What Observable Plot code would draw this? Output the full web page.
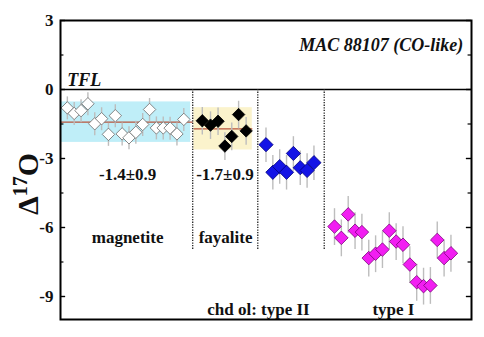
<!DOCTYPE html>
<html><head><meta charset="utf-8">
<script src="https://cdn.jsdelivr.net/npm/d3@7"></script>
<script src="https://cdn.jsdelivr.net/npm/@observablehq/plot@0.6"></script>
<style>body{margin:0;background:#fff}</style>
</head><body><div id="chart"></div>
<script>
// Data
const groups = ["magnetite", "fayalite", "type II", "type I"];
const magX = [1,2,3,4,5,6,7,8,9,10,11,12,13,14,15,16,17,18];
const magY = [-0.8,-1.04,-0.92,-0.62,-1.49,-1.27,-1.95,-1.14,-1.93,-2.1,-1.86,-1.52,-0.87,-1.67,-1.67,-1.68,-1.93,-1.3];
const fayX = [20.7,21.9,23.0,24.0,25.0,26.0,27.1];
const fayY = [-1.36,-1.55,-1.38,-2.46,-2.04,-1.09,-1.8];
const t2X = [30,31,32,33,34,35,36,37];
const t2Y = [-2.4,-3.6,-3.35,-3.6,-2.78,-3.4,-3.52,-3.18];
const t1X = [40,41,42,43,44,45,46,47,48,49,50,51,52,53,54,55,56,57];
const t1Y = [-5.96,-6.45,-5.43,-6.14,-6.2,-7.33,-7.14,-6.96,-6.14,-6.61,-6.75,-7.61,-8.38,-8.55,-8.52,-6.54,-7.33,-7.12];
const errs = [0.5, 0.6, 0.75, 0.8];
const means = [-1.42, -1.71];
const sds = [0.88, 0.92];
const meanLabels = ["-1.4±0.9", "-1.7±0.9"];
const yTicks = [3, 0, -3, -6, -9];
const yMinor = [1.5, -1.5, -4.5, -7.5];

const fills = ["#ffffff", "#000000", "#1414e6", "#f21ef2"];
const strokes = ["#6a6a6a", "#000000", "#00007a", "#7a007a"];
const sizes = [5.6, 5.6, 6.4, 6.1];

const xs = [magX, fayX, t2X, t1X], ys = [magY, fayY, t2Y, t1Y];
const pts = [];
groups.forEach((g, gi) => xs[gi].forEach((x, i) => pts.push({g, gi, x, y: ys[gi][i], e: errs[gi]})));

// band extents in x index units (segments of the sample sequence)
const segs = [{x1: 0, x2: 19.0}, {x1: 19.45, x2: 28.0}];
const lineSegs = [{x1: 0, x2: 19.3}, {x1: 19.45, x2: 28.0}];
const bands = segs.map((s, i) => ({...s, y1: means[i] - sds[i], y2: means[i] + sds[i]}));
const meanLines = lineSegs.map((s, i) => ({...s, y: means[i]}));
const dividers = [19.3, 28.8, 38.5];

const serif = "Liberation Serif, Times New Roman, serif";
const labels = [
  {x: 9.8, y: -3.7, t: meanLabels[0]},
  {x: 24.0, y: -3.7, t: meanLabels[1]},
  {x: 9.8, y: -6.43, t: "magnetite"},
  {x: 24.1, y: -6.43, t: "fayalite"},
  {x: 28.9, y: -9.57, t: "chd ol: type II"},
  {x: 48.6, y: -9.57, t: "type I"}
];

const chart = Plot.plot({
  width: 484, height: 337,
  marginLeft: 60, marginRight: 13, marginTop: 20, marginBottom: 18,
  x: {domain: [0, 60], axis: null},
  y: {domain: [-10, 3], axis: null},
  r: {type: "identity"},
  style: {fontFamily: serif, background: "#fff"},
  marks: [
    Plot.rect(bands.slice(0,1), {x1: "x1", x2: "x2", y1: "y1", y2: "y2", fill: "#bfeef8"}),
    Plot.rect(bands.slice(1), {x1: "x1", x2: "x2", y1: "y1", y2: "y2", fill: "#fbf3cc"}),
    Plot.link(meanLines, {x1: "x1", x2: "x2", y1: "y", y2: "y", stroke: "#b8553c", strokeWidth: 1.3}),
    Plot.ruleY([0], {stroke: "#000", strokeWidth: 1.5}),
    Plot.ruleX(dividers, {y1: 0, y2: -7.0, stroke: "#222", strokeWidth: 1.3, strokeDasharray: "1.3,1.3"}),
    Plot.link(pts, {x1: "x", x2: "x", y1: d => d.y - d.e, y2: d => d.y + d.e, stroke: "#bdbdbd", strokeWidth: 1.4}),
    Plot.dot(pts, {x: "x", y: "y", symbol: "diamond2", r: d => sizes[d.gi], fill: d => fills[d.gi], stroke: d => strokes[d.gi], strokeWidth: 0.8}),
    // inward ticks
    Plot.ruleY(yTicks, {x1: 0, x2: 0.75, stroke: "#000", strokeWidth: 1.4}),
    Plot.ruleY(yMinor, {x1: 0, x2: 0.5, stroke: "#000", strokeWidth: 1.2}),
    Plot.ruleY(yTicks, {x1: 59.25, x2: 60, stroke: "#000", strokeWidth: 1.4}),
    Plot.ruleY(yMinor, {x1: 59.5, x2: 60, stroke: "#000", strokeWidth: 1.2}),
    Plot.axisY({ticks: yTicks, tickSize: 0, tickPadding: 7, tickFormat: d => String(d), fontSize: 17, fontWeight: "bold", label: null, fill: "#111"}),
    Plot.frame({stroke: "#000", strokeWidth: 2}),
    Plot.text(labels, {x: "x", y: "y", text: "t", fontSize: 17, fontWeight: "bold", fill: "#111", lineAnchor: "middle"}),
    Plot.text(["MAC 88107 (CO-like)"], {x: 58.8, y: 1.91, textAnchor: "end", fontSize: 18, fontWeight: "bold", fontStyle: "italic", fill: "#111", lineAnchor: "middle"}),
    Plot.text(["TFL"], {x: 1.0, y: 0.42, textAnchor: "start", fontSize: 18, fontWeight: "bold", fontStyle: "italic", fill: "#111", lineAnchor: "middle"})
  ]
});

// y-axis title with superscript
const svg = d3.select(chart);
const t = svg.append("text")
  .attr("transform", "translate(38,184) rotate(-90)")
  .attr("text-anchor", "middle")
  .attr("font-family", serif)
  .attr("font-weight", "bold")
  .attr("font-size", 30)
  .attr("fill", "#111");
t.append("tspan").text("Δ");
t.append("tspan").attr("font-size", 20).attr("dy", -11).text("17");
t.append("tspan").attr("dy", 11).text("O");

document.getElementById("chart").append(chart);
</script>
</body></html>
